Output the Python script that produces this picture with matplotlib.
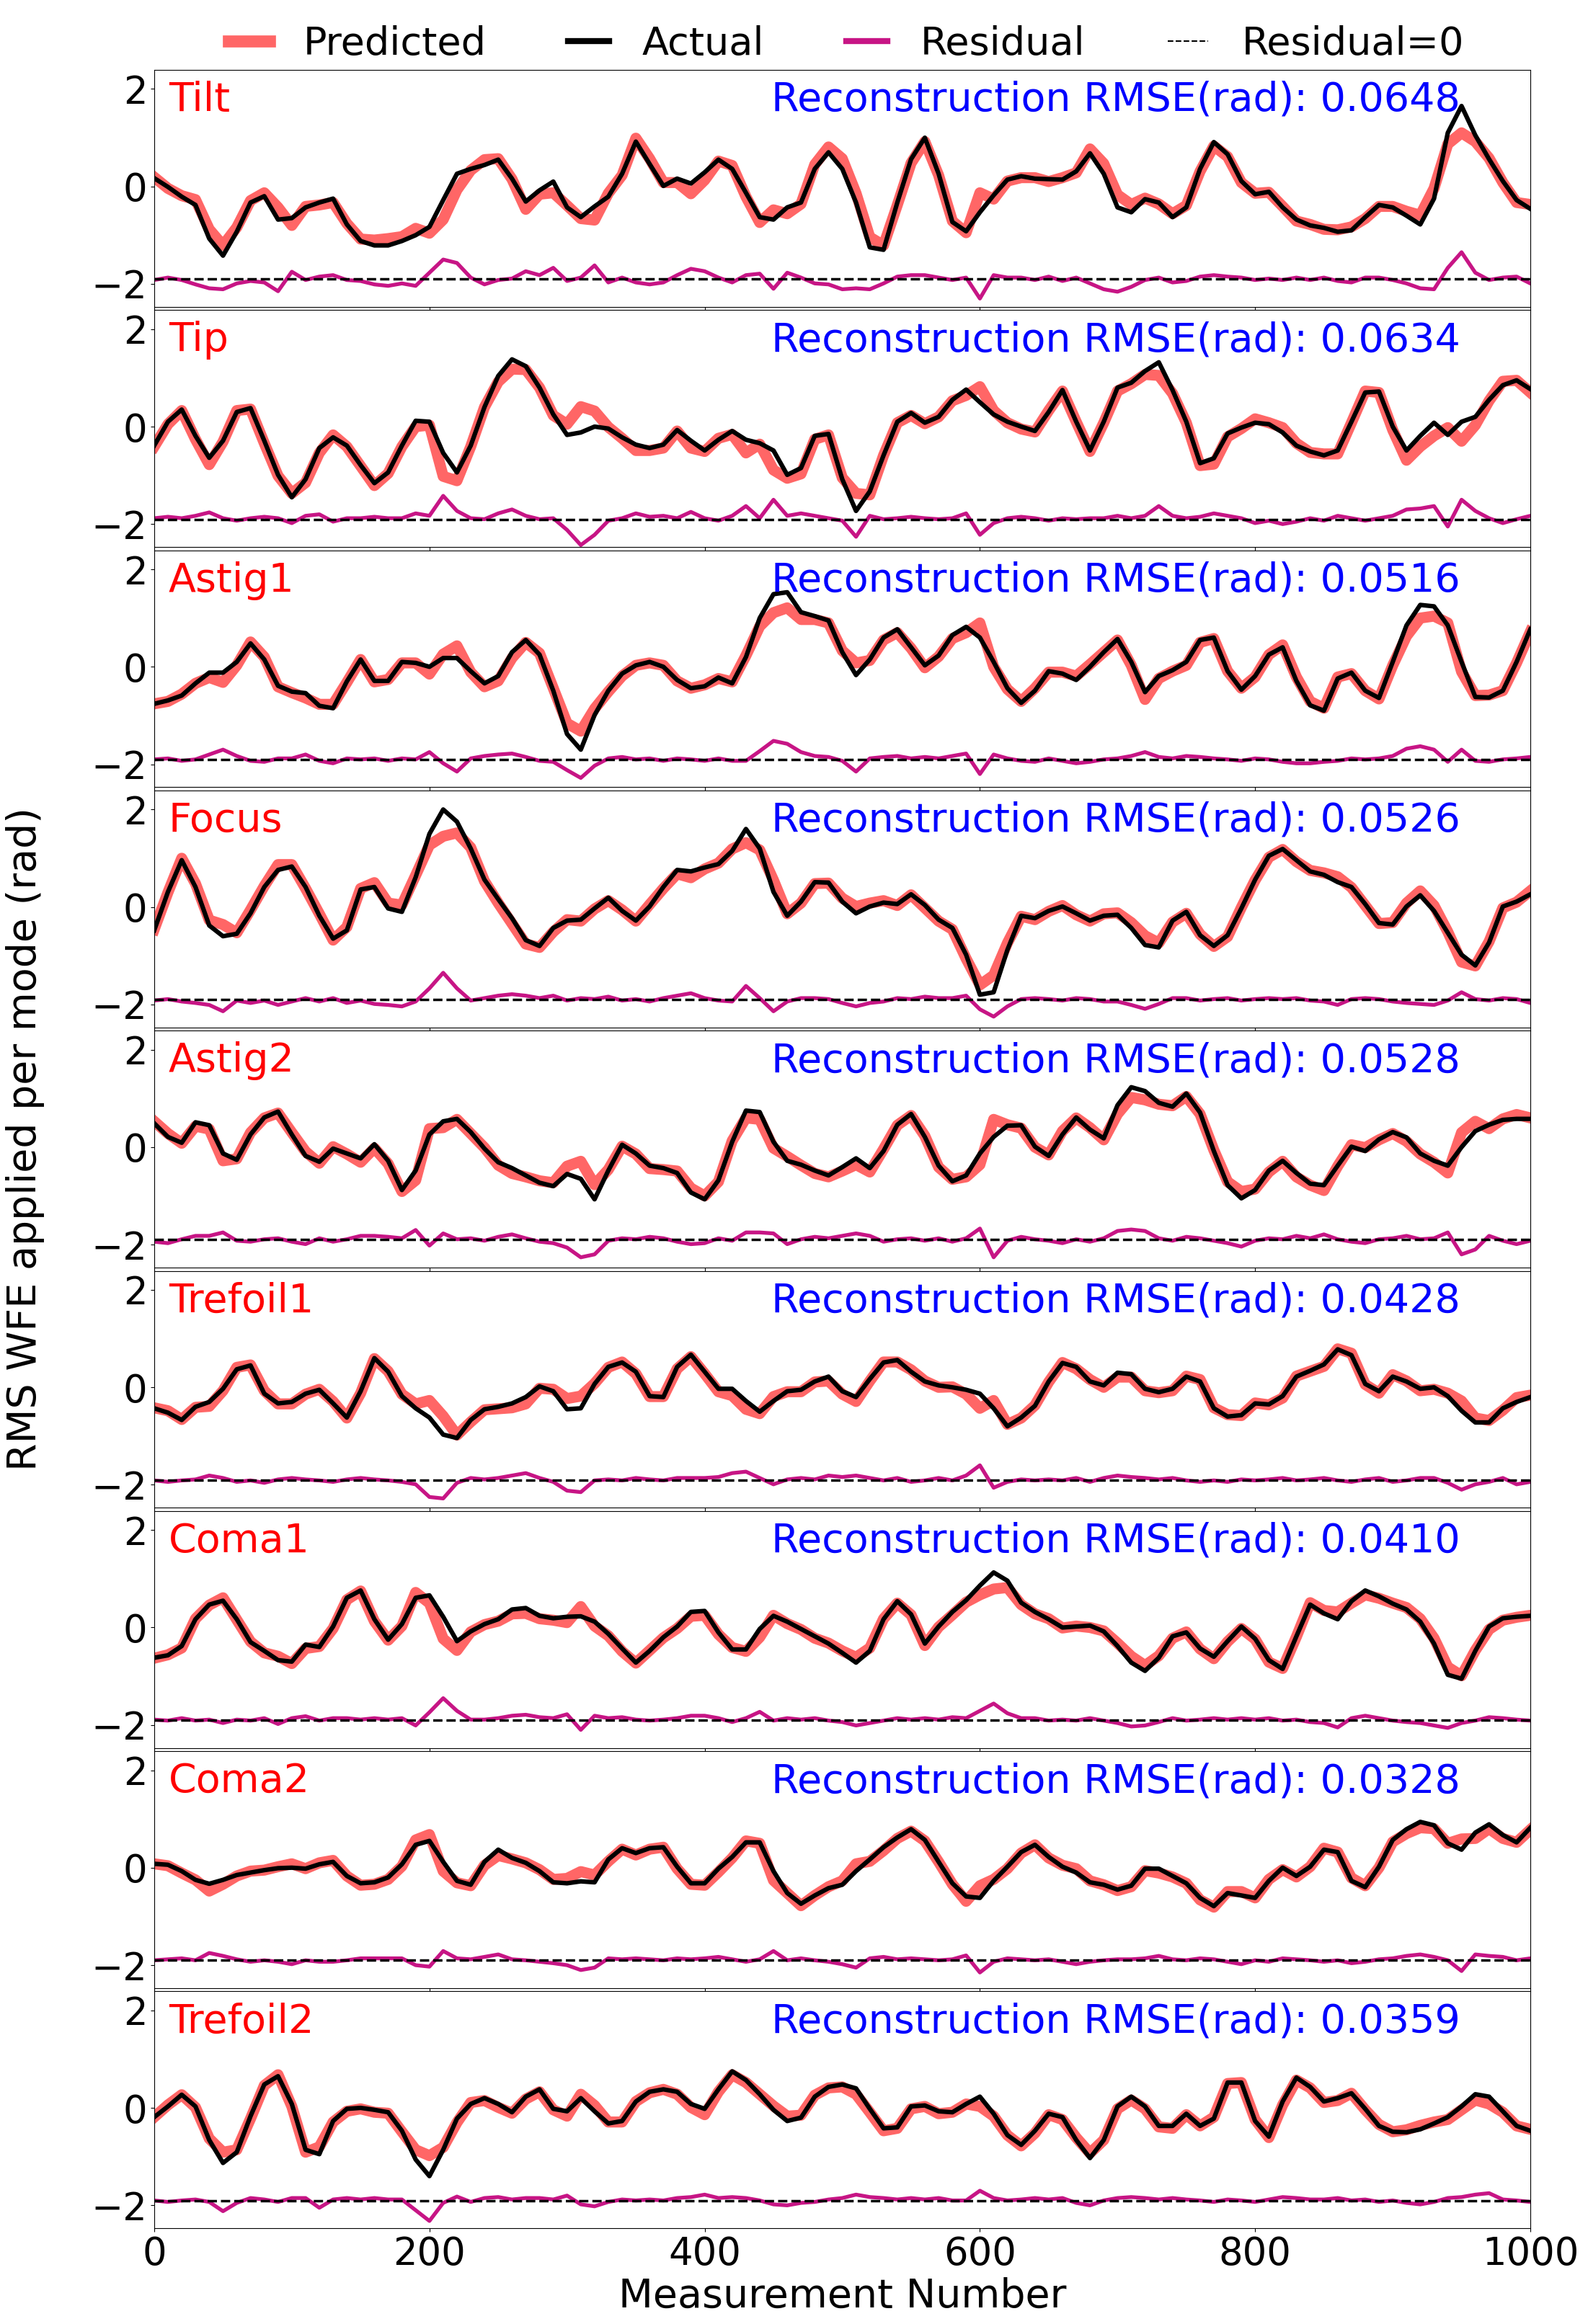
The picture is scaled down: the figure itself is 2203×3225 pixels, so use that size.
import numpy as np
import matplotlib
matplotlib.use("Agg")
import matplotlib.pyplot as plt
from matplotlib.lines import Line2D

# measurement numbers (one sample every 10 measurements)
measurement = np.arange(0, 1001, 10)

modes = ["Tilt", "Tip", "Astig1", "Focus", "Astig2", "Trefoil1", "Coma1", "Coma2", "Trefoil2"]
rmse = [0.0648, 0.0634, 0.0516, 0.0526, 0.0528, 0.0428, 0.0410, 0.0328, 0.0359]

# actual applied RMS WFE per mode (rad)
tilt_actual = [
    0.17, -0.01, -0.21, -0.38, -1.07, -1.42, -0.93, -0.33, -0.20, -0.68,
    -0.65, -0.43, -0.33, -0.25, -0.78, -1.12, -1.21, -1.21, -1.12, -1.00,
    -0.83, -0.28, 0.26, 0.36, 0.44, 0.55, 0.16, -0.31, -0.08, 0.10,
    -0.43, -0.63, -0.41, -0.21, 0.26, 0.92, 0.46, 0.01, 0.16, 0.06,
    0.29, 0.55, 0.36, -0.13, -0.63, -0.68, -0.43, -0.33, 0.36, 0.70,
    0.36, -0.33, -1.25, -1.30, -0.33, 0.56, 1.00, 0.26, -0.73, -0.92,
    -0.53, -0.18, 0.14, 0.21, 0.16, 0.15, 0.14, 0.31, 0.68, 0.26,
    -0.43, -0.53, -0.26, -0.33, -0.63, -0.43, 0.36, 0.91, 0.66, 0.11,
    -0.16, -0.11, -0.43, -0.68, -0.80, -0.85, -0.93, -0.90, -0.63, -0.38,
    -0.43, -0.60, -0.78, -0.25, 1.10, 1.65, 1.05, 0.56, 0.11, -0.28,
    -0.46]
tip_actual = [
    -0.39, 0.10, 0.35, -0.19, -0.64, -0.29, 0.30, 0.38, -0.29, -0.99,
    -1.45, -1.08, -0.44, -0.22, -0.39, -0.79, -1.16, -0.94, -0.39, 0.12,
    0.10, -0.54, -0.94, -0.39, 0.40, 1.04, 1.38, 1.24, 0.80, 0.25,
    -0.17, -0.12, 0.00, -0.04, -0.22, -0.37, -0.44, -0.37, -0.07, -0.29,
    -0.49, -0.27, -0.09, -0.27, -0.34, -0.49, -0.99, -0.85, -0.19, -0.15,
    -1.08, -1.73, -1.33, -0.59, 0.10, 0.28, 0.08, 0.20, 0.55, 0.76,
    0.50, 0.25, 0.10, 0.00, -0.09, 0.30, 0.75, 0.10, -0.49, 0.10,
    0.80, 0.90, 1.14, 1.32, 0.75, 0.10, -0.75, -0.65, -0.14, -0.02,
    0.08, 0.05, -0.12, -0.39, -0.51, -0.59, -0.49, 0.10, 0.70, 0.72,
    0.00, -0.49, -0.19, 0.08, -0.17, 0.10, 0.20, 0.55, 0.85, 0.95,
    0.77]
astig1_actual = [
    -0.76, -0.69, -0.59, -0.34, -0.12, -0.12, 0.10, 0.48, 0.15, -0.39,
    -0.51, -0.54, -0.80, -0.85, -0.30, 0.15, -0.29, -0.29, 0.10, 0.08,
    0.00, 0.18, 0.18, -0.09, -0.34, -0.19, 0.30, 0.55, 0.25, -0.49,
    -1.38, -1.70, -0.99, -0.49, -0.14, 0.03, 0.10, 0.00, -0.27, -0.44,
    -0.40, -0.22, -0.34, 0.20, 1.00, 1.49, 1.53, 1.12, 1.04, 0.95,
    0.30, -0.17, 0.15, 0.60, 0.77, 0.40, 0.03, 0.23, 0.65, 0.82,
    0.60, 0.10, -0.44, -0.74, -0.49, -0.09, -0.14, -0.27, 0.00, 0.30,
    0.57, 0.10, -0.52, -0.19, -0.07, 0.10, 0.55, 0.60, -0.09, -0.47,
    -0.19, 0.25, 0.40, -0.29, -0.79, -0.90, -0.24, -0.12, -0.49, -0.64,
    0.10, 0.85, 1.27, 1.24, 0.85, 0.10, -0.62, -0.63, -0.49, 0.10,
    0.77]
focus_actual = [
    -0.48, 0.31, 0.96, 0.41, -0.38, -0.60, -0.55, -0.13, 0.41, 0.76,
    0.83, 0.41, -0.18, -0.65, -0.48, 0.36, 0.41, -0.03, -0.10, 0.61,
    1.50, 2.00, 1.75, 1.20, 0.56, 0.16, -0.23, -0.68, -0.80, -0.43,
    -0.28, -0.26, -0.03, 0.19, -0.08, -0.28, 0.01, 0.41, 0.76, 0.73,
    0.81, 0.88, 1.15, 1.60, 1.20, 0.31, -0.18, 0.11, 0.51, 0.50,
    0.11, -0.13, 0.01, 0.09, 0.06, 0.26, 0.04, -0.26, -0.43, -0.98,
    -1.80, -1.75, -0.88, -0.18, -0.23, -0.08, 0.01, -0.13, -0.28, -0.18,
    -0.16, -0.43, -0.78, -0.83, -0.28, -0.10, -0.58, -0.80, -0.58, -0.03,
    0.56, 1.05, 1.19, 0.96, 0.73, 0.66, 0.51, 0.41, 0.06, -0.33,
    -0.36, 0.01, 0.24, -0.08, -0.53, -0.98, -1.20, -0.73, 0.01, 0.11,
    0.26]
astig2_actual = [
    0.49, 0.21, 0.09, 0.51, 0.45, -0.13, -0.26, 0.26, 0.61, 0.73,
    0.26, -0.18, -0.30, -0.03, -0.13, -0.23, 0.06, -0.28, -0.88, -0.48,
    0.26, 0.53, 0.58, 0.31, -0.03, -0.31, -0.43, -0.58, -0.73, -0.80,
    -0.55, -0.65, -1.07, -0.48, 0.05, -0.13, -0.38, -0.43, -0.53, -0.93,
    -1.07, -0.68, 0.11, 0.75, 0.72, 0.11, -0.28, -0.36, -0.48, -0.58,
    -0.41, -0.23, -0.43, -0.08, 0.46, 0.68, 0.21, -0.38, -0.70, -0.58,
    -0.13, 0.21, 0.44, 0.45, 0.01, -0.18, 0.26, 0.61, 0.36, 0.18,
    0.86, 1.23, 1.15, 0.91, 0.83, 1.10, 0.71, -0.08, -0.78, -1.05,
    -0.88, -0.48, -0.28, -0.53, -0.75, -0.78, -0.38, 0.01, -0.08, 0.16,
    0.31, 0.20, -0.13, -0.28, -0.38, 0.00, 0.33, 0.46, 0.56, 0.58,
    0.58]
trefoil1_actual = [
    -0.43, -0.52, -0.67, -0.40, -0.30, -0.03, 0.37, 0.45, -0.13, -0.33,
    -0.30, -0.13, -0.05, -0.33, -0.62, -0.08, 0.60, 0.32, -0.18, -0.43,
    -0.62, -0.97, -1.04, -0.67, -0.45, -0.40, -0.33, -0.20, 0.02, -0.08,
    -0.45, -0.43, 0.07, 0.42, 0.51, 0.32, -0.18, -0.20, 0.42, 0.67,
    0.32, -0.03, -0.03, -0.28, -0.50, -0.28, -0.08, -0.05, 0.12, 0.22,
    -0.08, -0.20, 0.17, 0.51, 0.56, 0.32, 0.12, 0.04, 0.00, -0.05,
    -0.13, -0.43, -0.80, -0.62, -0.38, 0.12, 0.50, 0.42, 0.12, 0.04,
    0.30, 0.27, -0.03, -0.10, -0.03, 0.22, 0.12, -0.43, -0.60, -0.57,
    -0.33, -0.35, -0.18, 0.22, 0.34, 0.47, 0.78, 0.66, 0.07, -0.08,
    0.22, 0.12, -0.03, 0.00, -0.18, -0.48, -0.72, -0.72, -0.43, -0.30,
    -0.20]
coma1_actual = [
    -0.62, -0.57, -0.38, 0.17, 0.47, 0.55, 0.17, -0.30, -0.48, -0.67,
    -0.70, -0.35, -0.40, 0.02, 0.61, 0.76, 0.17, -0.25, 0.07, 0.61,
    0.66, 0.22, -0.28, -0.08, 0.07, 0.17, 0.37, 0.40, 0.24, 0.19,
    0.22, 0.23, 0.12, -0.13, -0.43, -0.72, -0.48, -0.20, 0.02, 0.32,
    0.34, -0.10, -0.45, -0.45, -0.03, 0.24, 0.12, -0.03, -0.18, -0.33,
    -0.52, -0.72, -0.48, 0.17, 0.54, 0.27, -0.33, 0.02, 0.32, 0.56,
    0.86, 1.13, 0.96, 0.51, 0.32, 0.17, 0.00, 0.02, 0.04, -0.08,
    -0.38, -0.72, -0.89, -0.62, -0.18, -0.10, -0.43, -0.60, -0.28, 0.02,
    -0.23, -0.67, -0.85, -0.18, 0.47, 0.29, 0.17, 0.54, 0.76, 0.64,
    0.49, 0.37, 0.12, -0.33, -0.97, -1.05, -0.48, 0.02, 0.19, 0.22,
    0.24]
coma2_actual = [
    0.08, 0.06, -0.07, -0.25, -0.33, -0.25, -0.15, -0.10, -0.05, -0.01,
    0.00, -0.02, 0.07, 0.12, -0.17, -0.32, -0.30, -0.20, 0.07, 0.47,
    0.55, 0.12, -0.27, -0.35, 0.12, 0.37, 0.20, 0.10, -0.07, -0.30,
    -0.32, -0.28, -0.30, 0.17, 0.40, 0.30, 0.40, 0.42, 0.02, -0.32,
    -0.32, -0.02, 0.22, 0.52, 0.52, -0.07, -0.52, -0.74, -0.57, -0.42,
    -0.35, -0.07, 0.17, 0.42, 0.62, 0.79, 0.57, 0.12, -0.32, -0.59,
    -0.62, -0.27, 0.02, 0.32, 0.47, 0.22, 0.02, -0.10, -0.30, -0.35,
    -0.45, -0.37, -0.02, -0.02, -0.17, -0.32, -0.62, -0.79, -0.52, -0.57,
    -0.62, -0.27, 0.00, -0.17, 0.02, 0.37, 0.32, -0.27, -0.40, 0.02,
    0.57, 0.79, 0.94, 0.87, 0.50, 0.37, 0.72, 0.89, 0.67, 0.52,
    0.82]
trefoil2_actual = [
    -0.19, 0.03, 0.27, 0.03, -0.66, -1.13, -0.91, -0.17, 0.48, 0.65,
    0.08, -0.86, -0.95, -0.27, -0.02, 0.00, -0.04, -0.09, -0.47, -1.06,
    -1.40, -0.86, -0.22, 0.08, 0.20, 0.08, -0.09, 0.23, 0.38, -0.02,
    -0.07, 0.20, -0.07, -0.32, -0.27, 0.13, 0.33, 0.38, 0.33, 0.08,
    -0.02, 0.38, 0.75, 0.57, 0.28, -0.04, -0.27, -0.20, 0.23, 0.43,
    0.48, 0.40, -0.02, -0.42, -0.40, 0.03, 0.05, -0.07, -0.09, 0.08,
    0.23, -0.12, -0.56, -0.76, -0.47, -0.12, -0.19, -0.66, -1.03, -0.66,
    0.03, 0.23, 0.03, -0.37, -0.37, -0.12, -0.37, -0.22, 0.52, 0.52,
    -0.27, -0.59, 0.13, 0.62, 0.43, 0.13, 0.20, 0.30, -0.02, -0.37,
    -0.49, -0.50, -0.44, -0.32, -0.19, 0.03, 0.28, 0.23, -0.07, -0.37,
    -0.47]

# residual = actual - predicted
tilt_residual = [
    -0.02, 0.03, -0.02, -0.11, -0.19, -0.21, -0.09, -0.04, -0.07, -0.25,
    0.15, -0.02, 0.05, 0.08, -0.02, -0.04, -0.11, -0.14, -0.09, -0.14,
    0.13, 0.40, 0.33, 0.03, -0.11, -0.02, 0.01, 0.16, 0.08, 0.23,
    -0.04, 0.03, 0.28, -0.07, 0.03, -0.07, -0.11, -0.07, 0.08, 0.21,
    0.16, 0.03, -0.07, 0.08, 0.11, -0.20, 0.13, 0.03, -0.09, -0.11,
    -0.21, -0.19, -0.21, -0.09, 0.05, 0.08, 0.08, 0.03, -0.02, 0.03,
    -0.40, 0.08, 0.03, 0.03, -0.02, 0.05, -0.04, 0.03, -0.09, -0.21,
    -0.26, -0.16, -0.02, 0.03, -0.07, -0.04, 0.05, 0.08, 0.05, 0.03,
    -0.02, 0.01, -0.02, 0.03, -0.02, 0.03, -0.04, -0.07, 0.03, 0.03,
    -0.02, -0.09, -0.19, -0.21, 0.23, 0.55, 0.13, -0.02, 0.03, 0.05,
    -0.09]
tip_residual = [
    0.02, 0.05, 0.02, 0.07, 0.14, 0.02, -0.03, 0.02, 0.05, 0.02,
    -0.08, 0.07, 0.10, -0.05, 0.02, 0.02, 0.05, 0.02, 0.02, 0.12,
    0.07, 0.48, 0.17, 0.02, 0.00, 0.12, 0.20, 0.07, 0.00, 0.02,
    -0.22, -0.53, -0.32, -0.03, 0.02, 0.12, 0.05, 0.07, 0.02, 0.15,
    0.02, -0.03, 0.07, 0.27, 0.02, 0.40, 0.07, 0.12, 0.07, 0.02,
    -0.03, -0.36, 0.07, 0.00, 0.02, 0.05, 0.02, 0.00, 0.02, 0.12,
    -0.32, -0.08, 0.02, 0.05, 0.02, -0.03, 0.02, 0.00, 0.02, 0.02,
    0.07, 0.02, 0.07, 0.27, 0.07, 0.02, 0.05, 0.12, 0.07, 0.02,
    -0.08, -0.03, -0.10, -0.05, 0.02, -0.03, 0.07, 0.02, -0.03, 0.02,
    0.07, 0.20, 0.22, 0.27, -0.15, 0.40, 0.17, 0.02, -0.08, 0.00,
    0.07]
astig1_residual = [
    0.00, 0.02, -0.03, 0.00, 0.10, 0.20, 0.07, -0.03, -0.05, 0.02,
    0.02, 0.10, -0.03, -0.08, 0.02, 0.00, 0.02, -0.03, 0.02, 0.00,
    0.15, -0.08, -0.25, 0.02, 0.07, 0.10, 0.12, 0.05, -0.03, -0.05,
    -0.22, -0.38, -0.13, 0.02, 0.05, 0.00, 0.02, -0.03, 0.02, 0.00,
    -0.03, 0.02, -0.03, -0.03, 0.17, 0.38, 0.32, 0.15, 0.07, 0.05,
    -0.03, -0.25, 0.02, 0.05, 0.07, 0.02, 0.05, 0.02, 0.07, 0.12,
    -0.30, 0.10, 0.02, -0.03, -0.05, 0.02, -0.03, -0.08, -0.05, 0.00,
    0.02, 0.07, 0.15, 0.05, 0.02, 0.07, 0.05, 0.02, 0.00, -0.03,
    0.02, 0.00, -0.05, -0.08, -0.08, -0.05, -0.03, 0.02, 0.00, 0.02,
    0.07, 0.22, 0.27, 0.20, -0.05, 0.20, -0.03, -0.05, 0.00, 0.02,
    0.05]
focus_residual = [
    -0.02, 0.01, -0.04, -0.07, -0.11, -0.24, -0.02, -0.07, -0.02, -0.11,
    -0.04, 0.03, -0.04, 0.03, -0.07, -0.02, -0.09, -0.11, -0.14, -0.04,
    0.23, 0.55, 0.23, -0.02, 0.03, 0.08, 0.11, 0.08, 0.03, 0.08,
    -0.02, 0.03, 0.01, 0.06, -0.02, 0.01, -0.04, 0.03, 0.08, 0.13,
    0.03, -0.02, -0.04, 0.28, 0.03, -0.24, -0.04, 0.03, 0.03, 0.01,
    -0.07, -0.14, -0.07, -0.04, 0.03, 0.01, 0.06, 0.03, 0.03, 0.08,
    -0.20, -0.35, -0.14, 0.01, 0.03, 0.01, -0.02, 0.03, 0.01, -0.04,
    -0.04, -0.11, -0.19, -0.09, 0.03, 0.03, -0.02, 0.01, 0.03, -0.02,
    0.01, 0.03, 0.01, 0.03, -0.02, -0.04, -0.11, 0.01, 0.03, 0.01,
    -0.04, -0.07, -0.09, -0.11, -0.02, 0.15, 0.01, -0.02, 0.03, 0.01,
    -0.07]
astig2_residual = [
    -0.04, -0.07, 0.01, 0.08, 0.08, 0.15, -0.02, -0.04, 0.01, 0.03,
    -0.04, -0.09, 0.03, -0.04, 0.01, 0.08, 0.08, 0.06, 0.03, 0.20,
    -0.12, 0.13, 0.01, 0.03, -0.02, 0.06, 0.11, 0.03, -0.04, -0.07,
    -0.16, -0.36, -0.30, -0.02, 0.03, 0.01, 0.06, 0.03, -0.04, -0.09,
    -0.07, 0.03, -0.02, 0.15, 0.15, 0.13, -0.09, 0.01, 0.06, 0.03,
    0.08, 0.13, 0.08, -0.04, 0.01, 0.03, -0.02, 0.03, -0.04, 0.03,
    0.23, -0.36, -0.02, 0.06, 0.01, -0.02, -0.07, 0.01, -0.04, 0.03,
    0.18, 0.21, 0.18, 0.03, -0.02, 0.06, 0.03, -0.02, -0.07, -0.14,
    -0.02, 0.03, 0.01, 0.08, 0.03, 0.11, 0.01, -0.04, -0.07, 0.01,
    0.03, 0.08, 0.01, 0.03, 0.15, -0.30, -0.20, 0.08, -0.02, -0.09,
    -0.02]
trefoil1_residual = [
    -0.01, -0.04, -0.01, 0.01, 0.09, 0.04, -0.04, -0.01, -0.06, 0.01,
    0.04, 0.01, -0.01, -0.04, 0.01, 0.04, 0.01, -0.01, -0.04, -0.09,
    -0.35, -0.38, -0.06, 0.04, 0.01, 0.04, 0.09, 0.14, 0.04, -0.04,
    -0.22, -0.25, -0.01, 0.01, -0.01, 0.04, 0.01, -0.01, 0.04, 0.04,
    0.04, 0.06, 0.14, 0.17, 0.04, -0.09, 0.01, 0.04, 0.01, 0.09,
    0.06, 0.09, 0.04, -0.01, 0.04, -0.04, -0.01, 0.04, -0.01, 0.09,
    0.30, -0.16, -0.04, 0.01, -0.01, 0.01, -0.01, 0.04, -0.04, 0.04,
    0.09, 0.06, 0.04, 0.01, 0.04, -0.01, -0.04, -0.01, -0.04, 0.01,
    -0.01, 0.01, 0.04, -0.01, 0.01, 0.04, -0.01, -0.04, 0.01, 0.04,
    -0.04, -0.01, 0.04, 0.04, -0.06, -0.20, -0.09, -0.04, 0.04, -0.09,
    -0.04]
coma1_residual = [
    0.01, -0.01, 0.04, -0.01, 0.01, -0.06, 0.01, -0.01, 0.04, -0.08,
    0.04, 0.08, -0.01, 0.04, 0.04, 0.01, 0.04, 0.01, 0.04, -0.11,
    0.16, 0.45, 0.19, 0.01, 0.01, 0.04, 0.09, 0.11, 0.06, 0.04,
    0.12, -0.20, 0.09, 0.04, 0.06, 0.01, -0.01, 0.01, 0.04, 0.09,
    0.09, 0.04, -0.04, 0.04, 0.17, -0.01, 0.04, 0.01, 0.04, -0.01,
    -0.04, -0.11, -0.06, -0.01, 0.04, 0.01, 0.04, 0.01, 0.06, 0.04,
    0.19, 0.34, 0.14, 0.04, 0.04, -0.01, 0.01, -0.01, 0.04, -0.01,
    -0.06, -0.13, -0.11, -0.04, 0.04, -0.01, 0.01, 0.04, 0.01, 0.04,
    0.01, 0.04, -0.01, 0.01, -0.04, -0.06, -0.15, 0.04, 0.09, 0.04,
    -0.01, -0.04, -0.06, -0.11, -0.16, -0.06, -0.01, 0.06, 0.04, 0.01,
    -0.01]
coma2_residual = [
    0.00, 0.02, 0.04, 0.00, 0.15, 0.09, 0.02, -0.03, 0.00, -0.03,
    -0.08, 0.00, -0.03, -0.03, 0.00, 0.04, 0.04, 0.04, 0.04, -0.10,
    -0.13, 0.19, 0.04, 0.02, 0.07, 0.12, 0.02, 0.00, -0.03, -0.06,
    -0.10, -0.20, -0.15, 0.04, 0.02, 0.04, 0.02, 0.00, 0.04, 0.02,
    0.04, 0.07, 0.02, -0.03, 0.02, 0.19, 0.00, 0.04, 0.00, -0.03,
    -0.08, -0.15, 0.04, 0.07, 0.02, 0.04, 0.02, 0.00, 0.02, 0.10,
    -0.25, -0.03, 0.04, 0.02, 0.00, 0.02, -0.03, -0.08, -0.03, 0.00,
    0.02, 0.02, 0.04, 0.09, 0.02, 0.00, 0.04, 0.02, -0.03, -0.08,
    0.00, -0.03, 0.04, 0.02, 0.00, -0.03, 0.00, -0.06, -0.03, 0.02,
    0.04, 0.09, 0.12, 0.07, 0.00, -0.22, 0.12, 0.09, 0.07, 0.00,
    0.04]
trefoil2_residual = [
    0.00, -0.03, 0.00, 0.02, -0.03, -0.22, -0.05, 0.05, 0.02, -0.03,
    0.05, 0.05, -0.15, 0.02, 0.05, 0.02, 0.05, 0.02, 0.02, -0.20,
    -0.42, -0.05, 0.08, -0.03, 0.05, 0.07, 0.02, 0.05, 0.05, 0.02,
    0.10, -0.08, -0.12, -0.03, 0.02, 0.00, 0.02, 0.00, 0.05, 0.07,
    0.12, 0.05, 0.07, 0.05, 0.00, -0.08, -0.10, -0.05, -0.03, 0.02,
    0.05, 0.12, 0.07, 0.05, 0.02, 0.05, 0.02, 0.05, 0.00, 0.00,
    0.20, 0.05, 0.00, 0.02, 0.05, 0.02, 0.05, -0.05, -0.10, 0.00,
    0.05, 0.07, 0.05, 0.02, 0.05, 0.02, 0.00, -0.03, 0.02, 0.00,
    -0.03, 0.02, 0.07, 0.05, 0.02, 0.02, 0.05, 0.00, 0.02, -0.03,
    0.00, -0.05, -0.08, -0.03, 0.05, 0.07, 0.12, 0.15, 0.02, 0.00,
    -0.03]

actual = [tilt_actual, tip_actual, astig1_actual, focus_actual, astig2_actual,
          trefoil1_actual, coma1_actual, coma2_actual, trefoil2_actual]
residual = [tilt_residual, tip_residual, astig1_residual, focus_residual, astig2_residual,
            trefoil1_residual, coma1_residual, coma2_residual, trefoil2_residual]

resid_offset = -1.9  # residual trace is shifted down under the signals

fig, axes = plt.subplots(len(modes), 1, sharex=True, figsize=(22.03, 32.25), dpi=100)
fig.subplots_adjust(left=0.0971, right=0.9637, top=0.9699, bottom=0.0412, hspace=0.014)

for ax, name, err, act, res in zip(axes, modes, rmse, actual, residual):
    act = np.array(act)
    res = np.array(res)
    pred = act - res
    ax.plot(measurement, pred, color="red", alpha=0.6, lw=11)
    ax.plot(measurement, act, color="black", lw=4.5)
    ax.plot(measurement, res + resid_offset, color="mediumvioletred", lw=3.8)
    ax.axhline(resid_offset, color="black", ls="--", lw=2.5)
    ax.set_ylim(-2.47, 2.39)
    ax.set_yticks([-2, 0, 2])
    ax.tick_params(labelsize=38)
    ax.text(0.0105, 0.827, name, color="red", fontsize=40, transform=ax.transAxes,
            ha="left", va="baseline")
    ax.text(0.949, 0.827, f"Reconstruction RMSE(rad): {err:.4f}", color="blue", fontsize=40,
            transform=ax.transAxes, ha="right", va="baseline")

axes[-1].set_xlim(0, 1000)
axes[-1].set_xticks([0, 200, 400, 600, 800, 1000])
axes[-1].set_xlabel("Measurement Number", fontsize=40)
fig.text(0.016, 0.51, "RMS WFE applied per mode (rad)", rotation=90, fontsize=40,
         ha="center", va="center")

handles = [Line2D([], [], color="red", alpha=0.6, lw=12),
           Line2D([], [], color="black", lw=6),
           Line2D([], [], color="mediumvioletred", lw=6),
           Line2D([], [], color="black", ls="--", lw=1.5)]
fig.legend(handles, ["Predicted", "Actual", "Residual", "Residual=0"], loc="center",
           bbox_to_anchor=(0.533, 0.981), ncol=4, frameon=False, fontsize=39,
           handlelength=1.05, columnspacing=2.1, handletextpad=0.85)

fig.savefig("out.png", dpi=100)
